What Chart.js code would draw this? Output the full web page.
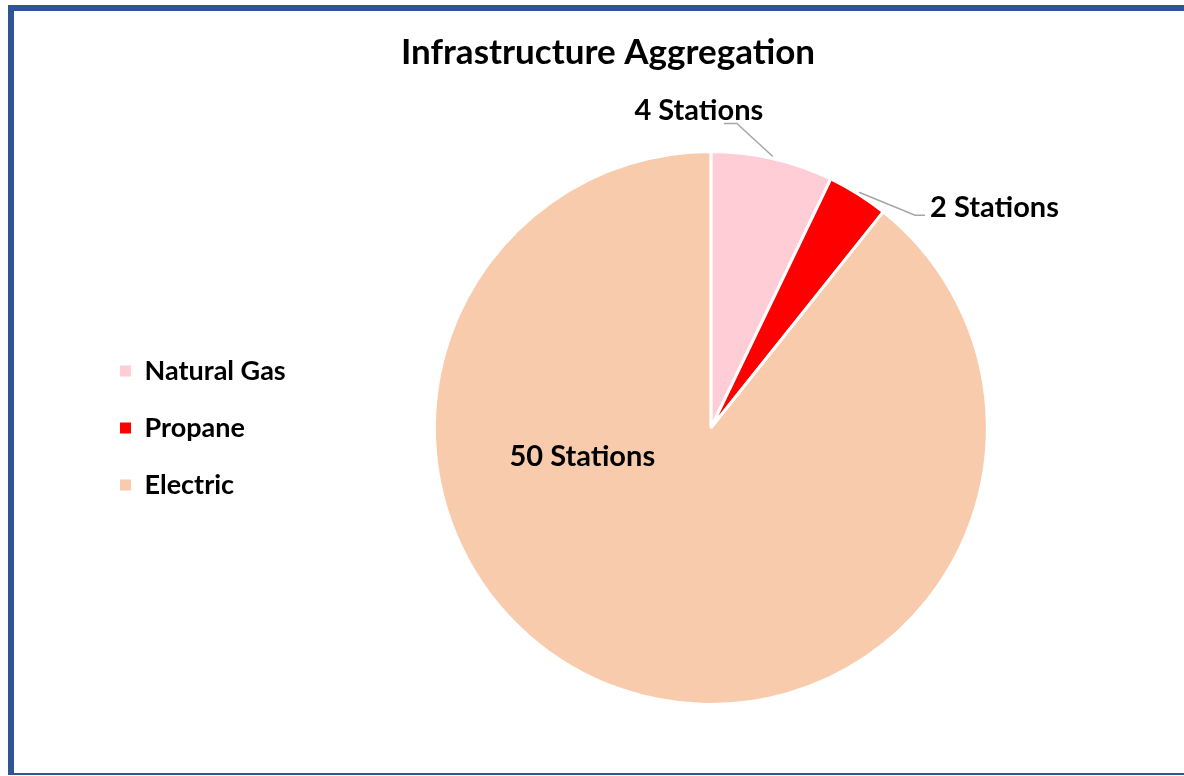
<!DOCTYPE html>
<html>
<head>
<meta charset="utf-8">
<script src="https://cdn.jsdelivr.net/npm/chart.js@4"></script>
<style>
	html, body { margin: 0; padding: 0; background: #fff; overflow: hidden; }
	#frame {
		position: absolute; left: 8px; top: 5px; width: 1200px; height: 762px;
		border-left: 6px solid #2f5597; border-top: 6px solid #2f5597; border-bottom: 2px solid #2f5597;
	}
	#wrap { position: absolute; left: 0; top: 0; width: 1184px; height: 776px; }
</style>
</head>
<body>
<div id="frame"></div>
<div id="wrap"><canvas id="pie-chart"></canvas></div>
<script>
const categories = ["Natural Gas", "Propane", "Electric"];
const stations = [4, 2, 50];
const sliceLabels = ["4 Stations", "2 Stations", "50 Stations"];
const sliceColors = ["#ffcdd6", "#ff0000", "#f8cbad"];

// where each slice label sits, relative to its arc (styling only)
const labelPlacement = [
	{ line: [[-36, -33], [-49, -33]], text: [-74, -46], align: "center" },
	{ line: [[56, 23], [66, 23]], text: [71, 15], align: "left" },
	{ inside: true, text: [-0.465, 0.105], align: "center" },
];

const sliceLabelPlugin = {
	id: "sliceLabels",
	afterDatasetsDraw(chart) {
		const ctx = chart.ctx;
		const arcs = chart.getDatasetMeta(0).data;
		ctx.save();
		ctx.font = "bold 29px Lato";
		ctx.fillStyle = "#000";
		ctx.textBaseline = "middle";
		arcs.forEach((arc, i) => {
			const place = labelPlacement[i];
			const { x, y, startAngle, endAngle, outerRadius } = arc.getProps(["x", "y", "startAngle", "endAngle", "outerRadius"]);
			ctx.textAlign = place.align;
			if (place.inside) {
				ctx.fillText(sliceLabels[i], x + place.text[0] * outerRadius, y + place.text[1] * outerRadius);
				return;
			}
			const mid = (startAngle + endAngle) / 2;
			const ax = x + Math.cos(mid) * (outerRadius + 2);
			const ay = y + Math.sin(mid) * (outerRadius + 2);
			ctx.strokeStyle = "#a6a6a6";
			ctx.lineWidth = 1.5;
			ctx.beginPath();
			ctx.moveTo(ax, ay);
			place.line.forEach((p) => ctx.lineTo(ax + p[0], ay + p[1]));
			ctx.stroke();
			ctx.fillText(sliceLabels[i], ax + place.text[0], ay + place.text[1]);
		});
		ctx.restore();
	},
};

const data = {
	labels: categories,
	datasets: [
		{
			data: stations,
			backgroundColor: sliceColors,
			borderColor: "#ffffff",
			borderWidth: 3,
		},
	],
};

const config = {
	type: "pie",
	data: data,
	options: {
		responsive: false,
		animation: false,
		layout: {
			padding: { left: 90, right: 58, top: 0, bottom: 70 },
		},
		plugins: {
			title: {
				display: true,
				text: "Infrastructure Aggregation",
				color: "#000",
				font: { family: "Lato", size: 35, weight: "bold" },
				padding: { top: 32, bottom: 76 },
			},
			legend: {
				position: "left",
				fullSize: false,
				labels: {
					color: "#000",
					font: { family: "Lato", size: 27, weight: "bold" },
					boxWidth: 11,
					boxHeight: 11,
					padding: 30,
					generateLabels(chart) {
						return categories.map((c, i) => ({
							text: c,
							fillStyle: sliceColors[i],
							strokeStyle: sliceColors[i],
							lineWidth: 0,
							hidden: false,
							index: i,
						}));
					},
				},
			},
			tooltip: { enabled: false },
		},
	},
	plugins: [sliceLabelPlugin],
};

const canvas = document.getElementById("pie-chart");
canvas.width = 1184;
canvas.height = 776;
new Chart(canvas, config);
</script>
</body>
</html>
